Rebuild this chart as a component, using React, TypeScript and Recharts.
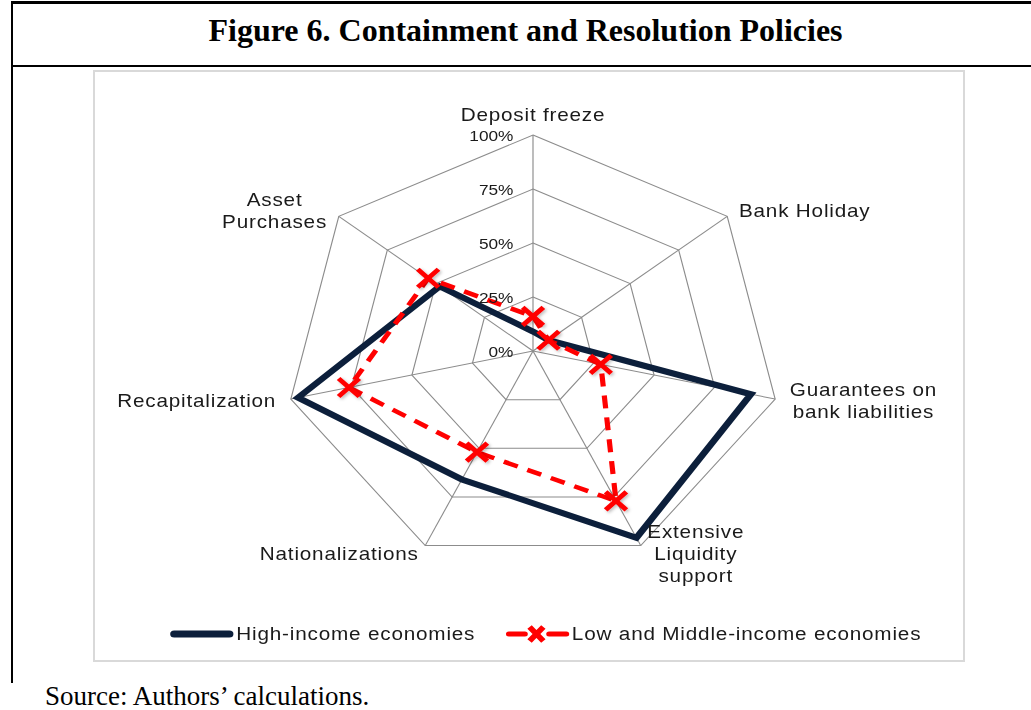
import React from "react";
import { RadarChart, PolarGrid, PolarAngleAxis, PolarRadiusAxis, Radar } from "recharts";

// axis categories, clockwise from the top
const categories = [
  "Deposit freeze",
  "Bank Holiday",
  "Guarantees on\nbank liabilities",
  "Extensive\nLiquidity\nsupport",
  "Nationalizations",
  "Recapitalization",
  "Asset\nPurchases",
];
const highIncome = [9, 8, 90, 96, 66, 97, 48];
const lowMiddleIncome = [16, 8, 28, 77, 52, 76, 54];
const radiusTicks = [0, 25, 50, 75, 100];
const seriesNames = ["High-income economies", "Low and Middle-income economies"];

const data = categories.map((category, i) => ({
  category,
  high: highIncome[i],
  low: lowMiddleIncome[i],
}));

const CW = 760;
const CH = 580;
const CX = 380;
const CY = 271;
const R = 216;
const STRETCH = 1.15;
const NAVY = "#0c1f3b";
const RED = "#ff0000";
const SANS = "'Liberation Sans', Arial, sans-serif";
const SERIF = "'Liberation Serif', 'Times New Roman', serif";
const LS = 0.7;

let ctx: CanvasRenderingContext2D | null = null;
const measure = (s: string) => {
  if (!ctx) ctx = document.createElement("canvas").getContext("2d");
  if (!ctx) return s.length * 9;
  ctx.font = `18px ${SANS}`;
  return ctx.measureText(s).width + s.length * LS;
};

const AngleTick = (props: any) => {
  const { payload, x, y } = props;
  const lines = String(payload.value).split("\n");
  const dx = x - CX;
  const dy = y - CY;
  const len = Math.hypot(dx, dy) || 1;
  const cos = dx / len;
  const sin = -dy / len;
  const vx = CX + cos * R;
  const vy = CY - sin * R;
  const w = Math.max(...lines.map(measure));
  const midX = Math.abs(cos) < 0.1 ? vx : vx + Math.sign(cos) * (13 * Math.abs(cos) + w / 2);
  const midY = vy - sin * (sin > 0.9 ? 20 : 9);
  const lh = 22;
  const top = midY - ((lines.length - 1) * lh) / 2;
  return (
    <text textAnchor="middle" fontSize={18} fill="#1a1a1a" style={{ letterSpacing: LS }}>
      {lines.map((l, i) => (
        <tspan key={i} x={midX} y={top + i * lh} dy="0.35em">
          {l}
        </tspan>
      ))}
    </text>
  );
};

const RadiusTick = (props: any) => {
  const { x, y, payload } = props;
  return (
    <text x={x - 17} y={y} dy={6} textAnchor="end" fontSize={15} fill="#1a1a1a">
      {payload.value}%
    </text>
  );
};

const XMark = (props: any) => {
  const { cx, cy } = props;
  if (cx == null || cy == null) return null;
  const s = 9;
  return (
    <path
      d={`M${cx - s},${cy - s}L${cx + s},${cy + s}M${cx - s},${cy + s}L${cx + s},${cy - s}`}
      stroke={RED}
      strokeWidth={4.5}
      fill="none"
      filter="url(#softShadow)"
    />
  );
};

const LegendBar = () => (
  <div
    style={{
      position: "absolute",
      left: 64,
      top: 542,
      display: "flex",
      alignItems: "center",
      fontSize: 18,
      letterSpacing: LS,
      color: "#1a1a1a",
      whiteSpace: "nowrap",
    }}
  >
    <svg width={56} height={24}>
      <line x1={4} y1={12} x2={52} y2={12} stroke={NAVY} strokeWidth={7} strokeLinecap="round" />
    </svg>
    <span style={{ marginLeft: 2 }}>{seriesNames[0]}</span>
    <svg width={56} height={24} style={{ marginLeft: 26 }}>
      <line x1={3} y1={12} x2={17} y2={12} stroke={RED} strokeWidth={5} strokeLinecap="round" />
      <path d="M21,5L33,19M21,19L33,5" stroke={RED} strokeWidth={5} />
      <line x1={38} y1={12} x2={53} y2={12} stroke={RED} strokeWidth={5} strokeLinecap="round" />
    </svg>
    <span style={{ marginLeft: 2 }}>{seriesNames[1]}</span>
  </div>
);

export default function App() {
  return (
    <div
      style={{
        position: "absolute",
        left: 0,
        top: 0,
        width: 1031,
        height: 710,
        background: "#fff",
        overflow: "hidden",
      }}
    >
      <svg width={0} height={0} style={{ position: "absolute" }}>
        <defs>
          <filter id="softShadow" x="-50%" y="-50%" width="200%" height="200%">
            <feDropShadow dx={1.5} dy={1.5} stdDeviation={1.5} floodColor="#000" floodOpacity={0.25} />
          </filter>
        </defs>
      </svg>

      {/* page frame */}
      <div style={{ position: "absolute", left: 11, top: 1, width: 1020, height: 3, background: "#000" }} />
      <div style={{ position: "absolute", left: 11, top: 1, width: 2, height: 682, background: "#000" }} />
      <div style={{ position: "absolute", left: 11, top: 65, width: 1020, height: 2, background: "#000" }} />

      <div
        style={{
          position: "absolute",
          left: 20,
          width: 1011,
          top: 0,
          height: 60,
          lineHeight: "60px",
          textAlign: "center",
          fontFamily: SERIF,
          fontWeight: "bold",
          fontSize: 32,
        }}
      >
        Figure 6. Containment and Resolution Policies
      </div>

      {/* chart area box */}
      <div
        style={{
          position: "absolute",
          left: 93,
          top: 70,
          width: 868,
          height: 588,
          border: "2px solid #d9d9d9",
        }}
      />

      <div
        style={{
          position: "absolute",
          left: 533 - CX,
          top: 80,
          width: CW,
          height: CH,
          transform: `scaleX(${STRETCH})`,
          transformOrigin: `${CX}px 0`,
          fontFamily: SANS,
        }}
      >
        <RadarChart width={CW} height={CH} data={data} cx={CX} cy={CY} outerRadius={R} margin={{ top: 0, right: 0, bottom: 0, left: 0 }}>
          <PolarGrid gridType="polygon" stroke="#8c8c8c" strokeWidth={1} />
          <PolarAngleAxis dataKey="category" tick={<AngleTick />} tickLine={false} axisLine={false} />
          <PolarRadiusAxis
            angle={90}
            domain={[0, 100]}
            ticks={radiusTicks as any}
            tickCount={radiusTicks.length}
            tick={<RadiusTick />}
            axisLine={false}
            tickLine={false}
          />
          <Radar
            name={seriesNames[0]}
            dataKey="high"
            stroke={NAVY}
            strokeWidth={6}
            fill="none"
            fillOpacity={0}
            dot={false}
            isAnimationActive={false}
          />
          <Radar
            name={seriesNames[1]}
            dataKey="low"
            stroke={RED}
            strokeWidth={4.5}
            strokeDasharray="13 9"
            fill="none"
            fillOpacity={0}
            dot={<XMark />}
            isAnimationActive={false}
          />
        </RadarChart>
        <LegendBar />
      </div>

      <div
        style={{
          position: "absolute",
          left: 45,
          top: 681,
          fontFamily: SERIF,
          fontSize: 27,
          lineHeight: "30px",
        }}
      >
        Source: Authors’ calculations.
      </div>
    </div>
  );
}
